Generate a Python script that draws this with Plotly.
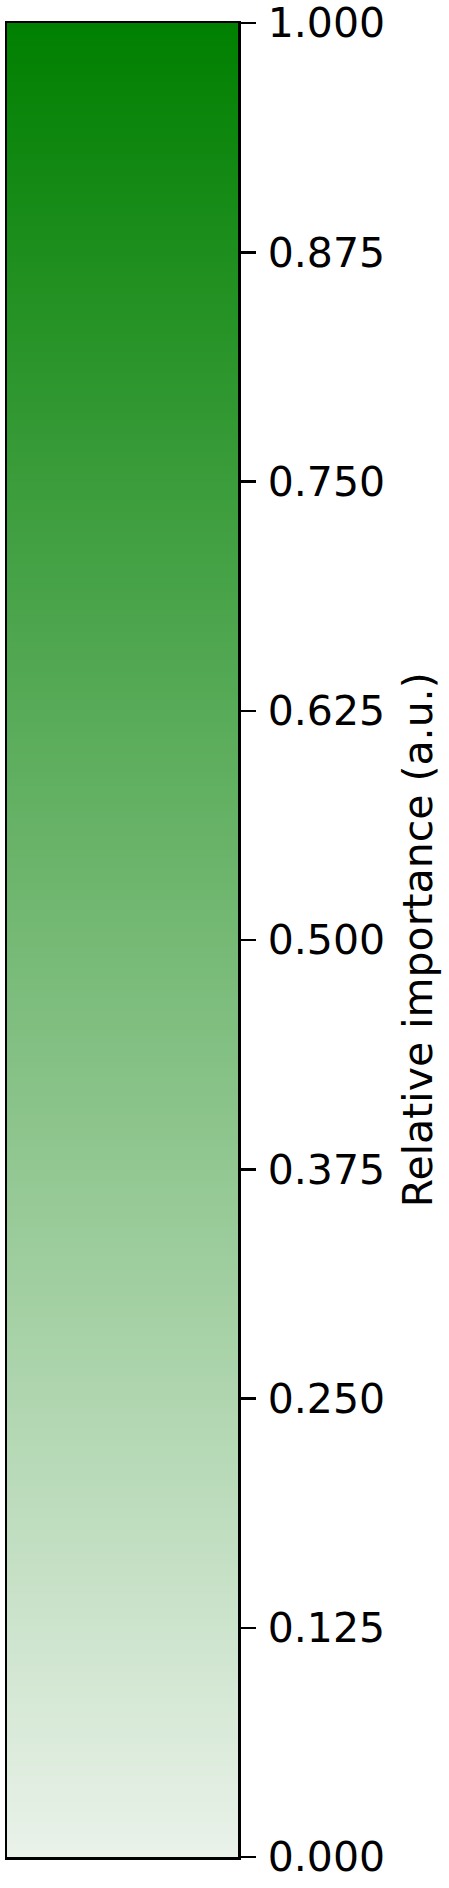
import numpy as np
import plotly.graph_objects as go

# Colour bar levels (gradient from 0 to 1)
levels = np.linspace(0.0, 1.0, 512)
tick_values = [0.0, 0.125, 0.25, 0.375, 0.5, 0.625, 0.75, 0.875, 1.0]
tick_labels = ["0.000", "0.125", "0.250", "0.375", "0.500", "0.625", "0.750", "0.875", "1.000"]
bar_title = "Relative importance (a.u.)"
low_color = "rgb(234,242,234)"
high_color = "rgb(0,128,0)"

FONT = "DejaVu Sans"
FS = 41

fig = go.Figure(
    go.Heatmap(
        x=[0],
        y=levels,
        z=[[v] for v in levels],
        colorscale=[[0, low_color], [1, high_color]],
        zmin=0,
        zmax=1,
        showscale=False,
        hoverinfo="skip",
    )
)

fig.update_xaxes(
    range=[-0.5, 0.5],
    showticklabels=False,
    ticks="",
    showgrid=False,
    zeroline=False,
    showline=True,
    mirror=True,
    linecolor="black",
    linewidth=2.5,
    automargin=False,
)
fig.update_yaxes(
    side="right",
    range=[0, 1],
    tickvals=tick_values,
    ticktext=tick_labels,
    ticks="outside",
    ticklen=15,
    tickwidth=2.5,
    tickcolor="black",
    ticklabelstandoff=4,
    ticklabeloverflow="allow",
    showgrid=False,
    zeroline=False,
    showline=True,
    mirror=True,
    linecolor="black",
    linewidth=2.5,
    automargin=False,
    tickfont=dict(family=FONT, size=FS, color="black"),
)

fig.add_annotation(
    text=bar_title,
    xref="paper",
    yref="paper",
    x=1.78,
    y=0.5,
    xanchor="center",
    yanchor="middle",
    textangle=-90,
    showarrow=False,
    font=dict(family=FONT, size=FS, color="black"),
)

fig.update_layout(
    width=449,
    height=1888,
    margin=dict(l=7, r=211, t=23, b=31, pad=0, autoexpand=False),
    paper_bgcolor="white",
    plot_bgcolor="white",
    showlegend=False,
)

fig.write_html(
    "out.html",
    config={"displayModeBar": False, "staticPlot": True},
    post_script="document.body.style.margin='0';document.body.style.overflow='hidden';",
)
